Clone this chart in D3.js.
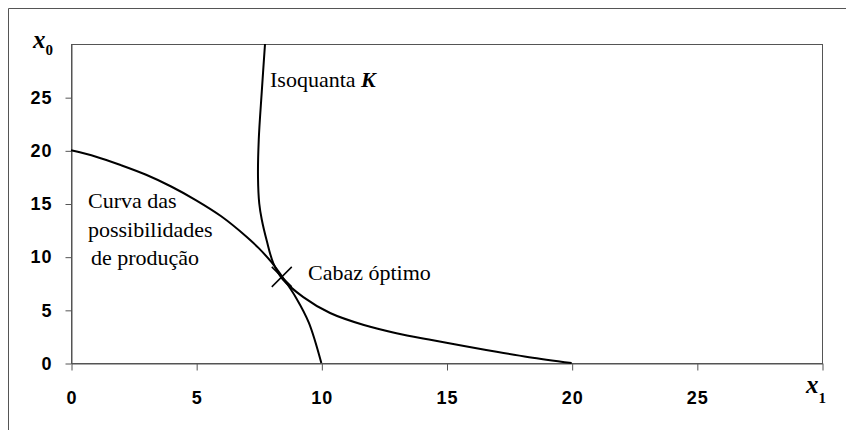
<!DOCTYPE html>
<html>
<head>
<meta charset="utf-8">
<script src="https://cdn.jsdelivr.net/npm/d3@7"></script>
<style>
  body { margin: 0; background: #fff; }
  svg { display: block; }
</style>
</head>
<body>
<div id="background"></div>
<script>
// valores
var xTicks = [0, 5, 10, 15, 20, 25, 30];
var xTickLabels = ["0", "5", "10", "15", "20", "25", ""];
var yTicks = [0, 5, 10, 15, 20, 25];
var yTickLabels = ["0", "5", "10", "15", "20", "25"];

// curva das possibilidades de producao (x1, x0)
var ppfX1 = [0, 1, 2, 3, 4, 5, 6, 7, 7.5, 8, 8.5, 9, 9.5, 10];
var ppfX0 = [20, 19.4, 18.6, 17.7, 16.6, 15.3, 13.8, 11.9, 10.8, 9.5, 7.9, 6.1, 3.8, 0];

// isoquanta K (x1, x0)
var isoX1 = [7.75, 7.62, 7.5, 7.47, 7.52, 7.62, 7.82, 8.08, 8.45, 9.28, 10.35, 11.7, 13.0, 14.3, 15.7, 17.0, 18.3, 20];
var isoX0 = [30, 25.5, 21, 17.5, 15.0, 13.5, 11.5, 9.4, 7.9, 6.2, 4.7, 3.57, 2.8, 2.2, 1.6, 1.05, 0.55, 0];

var optimo = [8.42, 8.1];

var canvas = d3.select("#background")
                .append("svg")
                .attr("width", 846)
                .attr("height", 430);

var pLeft = 71, pRight = 822, pTop = 44, pBottom = 363;

var x = d3.scaleLinear().domain([0, 30]).range([pLeft, pRight]);
var y = d3.scaleLinear().domain([0, 30]).range([pBottom, pTop]);

// moldura exterior
canvas.append("path")
      .attr("d", "M8.5,430 L8.5,8.5 L846,8.5")
      .attr("fill", "none")
      .attr("stroke", "#555")
      .attr("stroke-width", 1);

// caixa do grafico
canvas.append("rect")
      .attr("x", pLeft + 0.5)
      .attr("y", pTop + 0.5)
      .attr("width", pRight - pLeft)
      .attr("height", pBottom - pTop)
      .attr("fill", "none")
      .attr("stroke", "#555")
      .attr("stroke-width", 1);

var xAxis = d3.axisBottom(x)
              .tickValues(xTicks)
              .tickFormat(function(d, i){ return xTickLabels[i]; })
              .tickSizeInner(7)
              .tickSizeOuter(0)
              .tickPadding(21);

var yAxis = d3.axisLeft(y)
              .tickValues(yTicks)
              .tickFormat(function(d, i){ return yTickLabels[i]; })
              .tickSizeInner(6)
              .tickSizeOuter(0)
              .tickPadding(13);

canvas.append("g")
      .attr("transform", "translate(0.5," + (pBottom + 0.5) + ")")
      .call(xAxis);
canvas.append("g")
      .attr("transform", "translate(" + (pLeft + 0.5) + ",0.5)")
      .call(yAxis);

canvas.selectAll(".domain, .tick line")
      .attr("stroke", "#555");
canvas.selectAll(".tick text")
      .attr("font-family", "Liberation Sans, Arial, sans-serif")
      .attr("font-weight", "bold")
      .attr("font-size", 18)
      .attr("letter-spacing", 1)
      .attr("fill", "#000");

// curvas
var line = d3.line()
             .x(function(d){ return x(d[0]); })
             .y(function(d){ return y(d[1]); })
             .curve(d3.curveCatmullRom.alpha(0.5));

canvas.append("path")
      .attr("d", line(d3.zip(ppfX1, ppfX0)))
      .attr("fill", "none")
      .attr("stroke", "#000")
      .attr("stroke-width", 2);

canvas.append("path")
      .attr("d", line(d3.zip(isoX1, isoX0)))
      .attr("fill", "none")
      .attr("stroke", "#000")
      .attr("stroke-width", 2);

// cruz no cabaz optimo
var cx = x(optimo[0]), cy = y(optimo[1]);
canvas.append("path")
      .attr("d", "M" + (cx - 10) + "," + (cy + 10) + "L" + (cx + 10) + "," + (cy - 10) +
                 "M" + (cx - 10) + "," + (cy - 10) + "L" + (cx + 10) + "," + (cy + 10))
      .attr("stroke", "#000")
      .attr("stroke-width", 1.5);

// textos
var serif = "Liberation Serif, Times New Roman, serif";

function texto(tx, ty, s){
    return canvas.append("text")
                 .attr("x", tx)
                 .attr("y", ty)
                 .attr("font-family", serif)
                 .attr("font-size", 22)
                 .attr("fill", "#000")
                 .text(s);
}

var iso = texto(270, 87, "Isoquanta ");
iso.append("tspan")
   .attr("font-weight", "bold")
   .attr("font-style", "italic")
   .text("K");

texto(88, 208, "Curva das");
texto(88, 237, "possibilidades");
texto(91, 265, "de produção");
texto(308, 280, "Cabaz óptimo");

// rotulos dos eixos
var lx0 = canvas.append("text")
                .attr("x", 33)
                .attr("y", 48)
                .attr("font-family", serif)
                .attr("fill", "#000");
lx0.append("tspan").attr("font-size", 25).attr("font-style", "italic").attr("font-weight", "bold").text("x");
lx0.append("tspan").attr("font-size", 15).attr("font-weight", "bold").attr("dy", 7).text("0");

var lx1 = canvas.append("text")
                .attr("x", 806)
                .attr("y", 393)
                .attr("font-family", serif)
                .attr("fill", "#000");
lx1.append("tspan").attr("font-size", 25).attr("font-style", "italic").attr("font-weight", "bold").text("x");
lx1.append("tspan").attr("font-size", 15).attr("font-weight", "bold").attr("dy", 10).text("1");
</script>
</body>
</html>
